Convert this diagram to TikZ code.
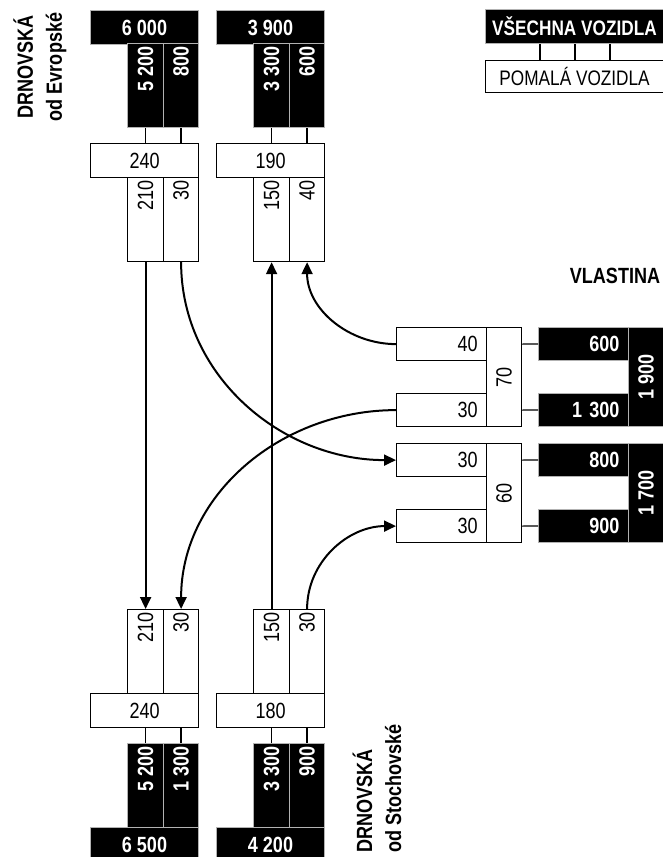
\documentclass[tikz,border=0pt]{standalone}
\usepackage{fontspec}
\setmainfont{Liberation Sans}[FakeStretch=0.82]
\usepackage{graphicx}
\usetikzlibrary{arrows.meta}

\newcommand{\numfont}{\fontsize{22}{28}\selectfont}
\newcommand{\upcol}[1]{\rotatebox{90}{\makebox[78pt][r]{#1}}}
\newcommand{\upmid}[1]{\rotatebox{90}{#1}}

\begin{document}
\begin{tikzpicture}[
  x=1pt, y=-1pt,
  wbox/.style={draw, fill=white, line width=1.2pt, inner sep=0pt, font=\numfont},
  bbox/.style={draw=black!30, fill=black, text=white, line width=1pt, inner sep=0pt, font=\numfont\bfseries},
  sumbox/.style={minimum width=108pt, minimum height=34pt, anchor=north west},
  colbox/.style={minimum width=36pt, minimum height=84pt, anchor=north west},
  sidebox/.style={minimum width=90pt, minimum height=33pt, anchor=north west, text width=72pt, inner xsep=9pt, align=right},
  tallbox/.style={minimum width=35pt, minimum height=99pt, anchor=north west},
  tickline/.style={line width=1.2pt},
  arr/.style={-{Triangle[length=12pt,width=11pt]}, line width=2pt},
  street/.style={font=\fontsize{22}{29}\selectfont\bfseries, rotate=90, inner sep=0pt}
]
  \useasboundingbox (0,0) rectangle (663,857);

  % Drnovska od Evropske: vjezd
  \node[bbox, sumbox] (evInT) at (90,10) {6 000};
  \node[bbox, colbox] (evInB1) at (127,43) {\upcol{5 200}};
  \node[bbox, colbox, minimum width=35pt] (evInB2) at (163,43) {\upcol{800}};
  \node[wbox, sumbox] (evIn) at (90,143) {240};
  \node[wbox, colbox] (evIn1) at (127,177) {\upcol{210}};
  \node[wbox, colbox, minimum width=35pt] (evIn2) at (163,177) {\upcol{30}};
  % Drnovska od Evropske: vyjezd
  \node[bbox, sumbox] (evOutT) at (216,10) {3 900};
  \node[bbox, colbox] (evOutB1) at (253,43) {\upcol{3 300}};
  \node[bbox, colbox, minimum width=35pt] (evOutB2) at (289,43) {\upcol{600}};
  \node[wbox, sumbox] (evOut) at (216,143) {190};
  \node[wbox, colbox] (evOut1) at (253,177) {\upcol{150}};
  \node[wbox, colbox, minimum width=35pt] (evOut2) at (289,177) {\upcol{40}};

  % Drnovska od Stochovske
  \node[wbox, colbox] (stOut1) at (127,609) {\upcol{210}};
  \node[wbox, colbox, minimum width=35pt] (stOut2) at (163,609) {\upcol{30}};
  \node[wbox, sumbox] (stOut) at (90,693) {240};
  \node[bbox, colbox] (stOutB1) at (127,743) {\upcol{5 200}};
  \node[bbox, colbox, minimum width=35pt] (stOutB2) at (163,743) {\upcol{1 300}};
  \node[bbox, sumbox] (stOutT) at (90,827) {6 500};
  \node[wbox, colbox] (stIn1) at (253,609) {\upcol{150}};
  \node[wbox, colbox, minimum width=35pt] (stIn2) at (289,609) {\upcol{30}};
  \node[wbox, sumbox] (stIn) at (216,693) {180};
  \node[bbox, colbox] (stInB1) at (253,743) {\upcol{3 300}};
  \node[bbox, colbox, minimum width=35pt] (stInB2) at (289,743) {\upcol{900}};
  \node[bbox, sumbox] (stInT) at (216,827) {4 200};

  % Vlastina
  \node[wbox, sidebox] (vlIn1) at (396,327) {40};
  \node[wbox, sidebox] (vlIn2) at (396,393) {30};
  \node[wbox, tallbox] (vlIn) at (486,327) {\upmid{70}};
  \node[bbox, sidebox] (vlInB1) at (538,327) {600};
  \node[bbox, sidebox] (vlInB2) at (538,393) {1 300};
  \node[bbox, tallbox] (vlInT) at (628,327) {\upmid{1 900}};
  \node[wbox, sidebox] (vlOut1) at (396,443) {30};
  \node[wbox, sidebox] (vlOut2) at (396,509) {30};
  \node[wbox, tallbox] (vlOut) at (486,443) {\upmid{60}};
  \node[bbox, sidebox] (vlOutB1) at (538,443) {800};
  \node[bbox, sidebox] (vlOutB2) at (538,509) {900};
  \node[bbox, tallbox] (vlOutT) at (628,443) {\upmid{1 700}};

  % legenda
  \node[bbox, minimum width=178pt, minimum height=34pt, anchor=north west,
    font=\fontsize{21}{25}\selectfont\bfseries] (legAll) at (485,9) {VŠECHNA VOZIDLA};
  \node[wbox, minimum width=178pt, minimum height=32pt, anchor=north west,
    font=\fontsize{21}{25}\selectfont] (legSlow) at (485,60) {POMALÁ VOZIDLA};
  \foreach \dx in {55,90,125}
    \draw[tickline] ([xshift=\dx pt]legAll.south west) -- ([xshift=\dx pt]legSlow.north west);

  % nazvy ulic
  \node[street, align=center] (evName) at (40,67) {DRNOVSKÁ\\od Evropské};
  \node[street, align=left, anchor=west] (stName) at (377,853) {DRNOVSKÁ\\od Stochovské};
  \node[font=\numfont\bfseries] (vlName) at (615,276) {VLASTINA};

  % spojnice
  \draw[tickline] (evInB1.south) -- (evInB1.south |- evIn.north);
  \draw[tickline] (evInB2.south) -- (evInB2.south |- evIn.north);
  \draw[tickline] (evOutB1.south) -- (evOutB1.south |- evOut.north);
  \draw[tickline] (evOutB2.south) -- (evOutB2.south |- evOut.north);
  \draw[tickline] (stOut.south -| stOutB1) -- (stOutB1.north);
  \draw[tickline] (stOut.south -| stOutB2) -- (stOutB2.north);
  \draw[tickline] (stIn.south -| stInB1) -- (stInB1.north);
  \draw[tickline] (stIn.south -| stInB2) -- (stInB2.north);
  \draw[tickline] (vlIn1 -| vlIn.east) -- (vlInB1.west);
  \draw[tickline] (vlIn2 -| vlIn.east) -- (vlInB2.west);
  \draw[tickline] (vlOut1 -| vlOut.east) -- (vlOutB1.west);
  \draw[tickline] (vlOut2 -| vlOut.east) -- (vlOutB2.west);

  % proudy
  \draw[arr] (evIn1.south) -- (stOut1.north);
  \draw[arr] (stIn1.north) -- (evOut1.south);
  \draw[arr] (evIn2.south) to[out=-90, in=180] (vlOut1.west);
  \draw[arr] (vlIn2.west) to[out=180, in=90] (stOut2.north);
  \draw[arr] (vlIn1.west) to[out=180, in=-90] (evOut2.south);
  \draw[arr] (stIn2.north) to[out=90, in=180] (vlOut2.west);
\end{tikzpicture}
\end{document}
